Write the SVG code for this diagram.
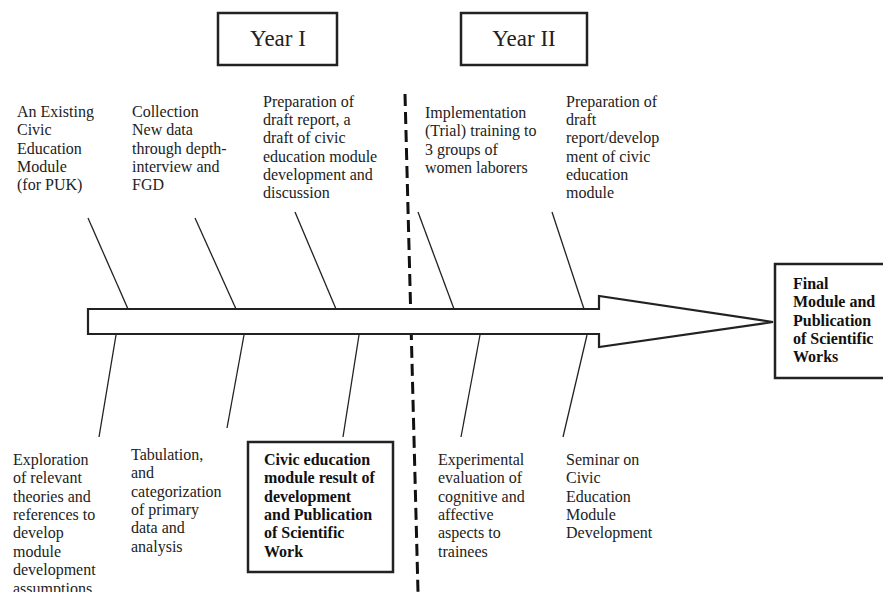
<svg xmlns="http://www.w3.org/2000/svg" width="883" height="592" viewBox="0 0 883 592">
<style>
.t{font-family:"Liberation Serif","Times New Roman",serif;font-size:16px;fill:#222}
.b{font-family:"Liberation Serif","Times New Roman",serif;font-size:16px;font-weight:bold;fill:#111}
.y{font-family:"Liberation Serif","Times New Roman",serif;font-size:23px;fill:#222}
.box{fill:#fff;stroke:#222;stroke-width:2.5}
.ln{stroke:#222;stroke-width:1.3;fill:none}
</style>
<rect width="883" height="592" fill="#fff"/>
<g id="year1"><rect class="box" x="218" y="13" width="119" height="52" stroke-width="2"/><text class="y" x="278" y="46" text-anchor="middle">Year I</text></g>
<g id="year2"><rect class="box" x="461" y="13" width="126" height="52" stroke-width="2"/><text class="y" x="524" y="46" text-anchor="middle">Year II</text></g>
<g id="connectors">
<line x1="405" y1="94" x2="418" y2="592" stroke="#111" stroke-width="3" stroke-dasharray="12 6"/>
<line class="ln" x1="88" y1="218" x2="128" y2="309"/>
<line class="ln" x1="195" y1="218" x2="236" y2="309"/>
<line class="ln" x1="295" y1="212" x2="336" y2="309"/>
<line class="ln" x1="418" y1="212" x2="454" y2="309"/>
<line class="ln" x1="552" y1="212" x2="584" y2="309"/>
<line class="ln" x1="116" y1="335" x2="99" y2="437"/>
<line class="ln" x1="244" y1="335" x2="227" y2="428"/>
<line class="ln" x1="359" y1="335" x2="343" y2="437"/>
<line class="ln" x1="480" y1="335" x2="461" y2="437"/>
<line class="ln" x1="587" y1="335" x2="563" y2="437"/>
</g>
<g id="arrow"><polygon points="88,309 599,309 599,296 773,322 599,347 599,334 88,334" fill="#fff" stroke="#222" stroke-width="2.2" stroke-linejoin="miter"/></g>
<g id="final"><rect class="box" x="775" y="264" width="112" height="114" stroke-width="3"/>
<text class="b" x="793"><tspan x="793" y="289">Final</tspan><tspan x="793" y="307">Module and</tspan><tspan x="793" y="326">Publication</tspan><tspan x="793" y="344">of Scientific</tspan><tspan x="793" y="362">Works</tspan></text></g>
<g id="n1"><text class="t"><tspan x="17" y="117">An Existing</tspan><tspan x="17" y="135">Civic</tspan><tspan x="17" y="154">Education</tspan><tspan x="17" y="172">Module</tspan><tspan x="17" y="190">(for PUK)</tspan></text></g>
<g id="n2"><text class="t"><tspan x="132" y="117">Collection</tspan><tspan x="132" y="135">New data</tspan><tspan x="132" y="154">through depth-</tspan><tspan x="132" y="172">interview and</tspan><tspan x="132" y="190">FGD</tspan></text></g>
<g id="n3"><text class="t"><tspan x="263" y="107">Preparation of</tspan><tspan x="263" y="125">draft report, a</tspan><tspan x="263" y="143">draft of civic</tspan><tspan x="263" y="162">education module</tspan><tspan x="263" y="180">development and</tspan><tspan x="263" y="198">discussion</tspan></text></g>
<g id="n4"><text class="t"><tspan x="425" y="118">Implementation</tspan><tspan x="425" y="136">(Trial) training to</tspan><tspan x="425" y="155">3 groups of</tspan><tspan x="425" y="173">women laborers</tspan></text></g>
<g id="n5"><text class="t"><tspan x="566" y="107">Preparation of</tspan><tspan x="566" y="125">draft</tspan><tspan x="566" y="143">report/develop</tspan><tspan x="566" y="162">ment of civic</tspan><tspan x="566" y="180">education</tspan><tspan x="566" y="198">module</tspan></text></g>
<g id="n6"><text class="t"><tspan x="13" y="465">Exploration</tspan><tspan x="13" y="483">of relevant</tspan><tspan x="13" y="502">theories and</tspan><tspan x="13" y="520">references to</tspan><tspan x="13" y="538">develop</tspan><tspan x="13" y="557">module</tspan><tspan x="13" y="575">development</tspan><tspan x="13" y="594">assumptions</tspan></text></g>
<g id="n7"><text class="t"><tspan x="131" y="460">Tabulation,</tspan><tspan x="131" y="478">and</tspan><tspan x="131" y="497">categorization</tspan><tspan x="131" y="515">of primary</tspan><tspan x="131" y="533">data and</tspan><tspan x="131" y="552">analysis</tspan></text></g>
<g id="n8"><rect class="box" x="248" y="442" width="145" height="130" stroke-width="2"/><text class="b"><tspan x="264" y="465">Civic education</tspan><tspan x="264" y="483">module result of</tspan><tspan x="264" y="502">development</tspan><tspan x="264" y="520">and Publication</tspan><tspan x="264" y="538">of Scientific</tspan><tspan x="264" y="557">Work</tspan></text></g>
<g id="n9"><text class="t"><tspan x="438" y="465">Experimental</tspan><tspan x="438" y="483">evaluation of</tspan><tspan x="438" y="502">cognitive and</tspan><tspan x="438" y="520">affective</tspan><tspan x="438" y="538">aspects to</tspan><tspan x="438" y="557">trainees</tspan></text></g>
<g id="n10"><text class="t"><tspan x="566" y="465">Seminar on</tspan><tspan x="566" y="483">Civic</tspan><tspan x="566" y="502">Education</tspan><tspan x="566" y="520">Module</tspan><tspan x="566" y="538">Development</tspan></text></g>
</svg>
